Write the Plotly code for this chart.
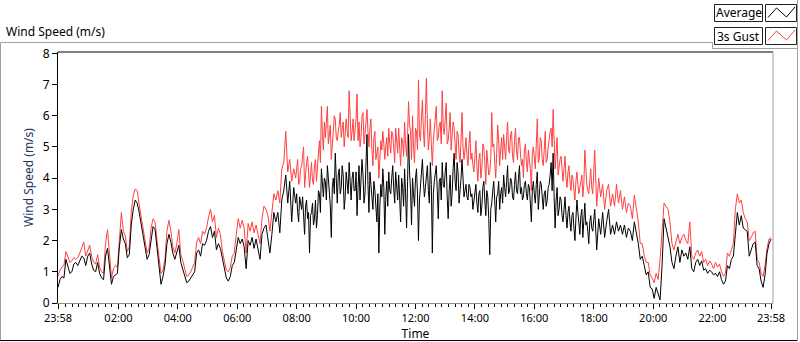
import plotly.graph_objects as go

# ---- data (m/s) ----
# 23:58 -> 07:54, 4-minute samples
avg_early = [
    0.5, 0.75, 0.85, 0.8, 1.4, 1.2, 0.95, 1.0, 1.25, 1.3, 1.2, 1.35, 1.5, 1.45, 1.2,
    1.5, 1.6, 1.25, 1.05, 1.0, 1.3, 0.95, 0.8, 0.75, 1.5, 1.75, 1.1, 0.6, 0.85, 0.9,
    0.95, 1.8, 2.35, 2.05, 1.9, 1.45, 1.55, 2.5, 3.0, 3.3, 3.2, 2.9, 2.5, 2.1, 1.8,
    1.4, 1.55, 2.1, 2.45, 2.35, 1.8, 1.2, 0.6, 0.85, 1.2, 1.9, 2.2, 1.95, 1.6, 1.4,
    1.6, 1.85, 1.3, 1.1, 0.9, 0.65, 0.7, 0.8, 0.9, 1.0, 1.6, 1.7, 1.5, 1.9, 1.85,
    2.0, 2.3, 2.45, 2.1, 2.3, 1.7, 1.9, 1.75, 1.4, 1.1, 0.8, 0.7, 0.85, 1.2, 1.3,
    1.7, 2.1, 1.9, 2.05, 1.8, 1.1, 2.0, 1.85, 2.1, 1.75, 2.05, 1.7, 1.4, 2.2, 2.4,
    2.5, 2.0, 1.6, 2.2, 2.9, 2.6, 2.9, 2.25, 3.3, 3.6, 4.1, 3.2, 3.9, 2.6, 3.7,
]
gust_early = [
    0.85, 1.05, 1.15, 1.2, 1.65, 1.5, 1.3, 1.35, 1.45, 1.4, 1.45, 1.6, 1.75, 1.95, 1.5,
    1.7, 1.85, 1.5, 1.3, 1.25, 1.55, 1.15, 1.0, 0.95, 1.9, 2.35, 1.4, 0.8, 1.1, 1.2,
    1.15, 2.2, 2.9, 2.3, 2.15, 1.65, 1.8, 2.9, 3.45, 3.65, 3.6, 3.15, 2.75, 2.3, 2.0,
    1.6, 1.75, 2.4, 2.7, 2.6, 2.0, 1.4, 0.95, 1.05, 1.4, 2.3, 2.65, 2.3, 1.8, 1.6,
    1.9, 2.35, 1.55, 1.35, 1.05, 0.85, 0.9, 1.0, 1.15, 1.3, 1.95, 2.1, 1.9, 2.3, 2.2,
    2.4, 2.75, 3.0, 2.6, 2.8, 2.1, 2.4, 2.2, 1.65, 1.35, 1.05, 1.0, 1.15, 1.5, 1.6,
    2.2, 2.7, 2.4, 2.65, 2.4, 1.6, 2.55, 2.3, 2.6, 2.25, 2.5, 2.2, 1.9, 2.7, 3.1,
    3.0, 2.8, 2.3, 2.9, 3.5, 3.3, 3.6, 3.2, 4.3, 4.5, 5.5, 4.2, 4.6, 3.9, 4.3,
]

# 07:58 -> 17:56, 2-minute samples
avg_mid = [
    3.2, 3.5, 2.9, 2.6, 3.4, 3.1, 3.0, 3.4, 2.6, 2.2, 3.1, 3.3, 2.7, 2.9, 1.6, 2.8, 2.9, 3.2, 2.5, 2.7, 3.3, 2.4, 2.8, 3.6, 3.5, 2.9, 4.3, 3.8, 3.4, 4.0,
    3.9, 3.3, 4.4, 4.0, 3.6, 3.1, 2.1, 3.7, 4.0, 3.5, 4.8, 3.9, 3.2, 4.1, 4.3, 3.5, 3.7, 4.4, 4.1, 3.0, 3.4, 4.2, 3.9, 3.5, 4.5, 3.8, 3.3, 4.0, 4.2, 3.6,
    3.6, 4.2, 2.8, 3.7, 4.4, 3.3, 3.8, 4.6, 4.1, 3.2, 3.5, 4.3, 5.4, 3.8, 2.9, 4.2, 3.9, 3.4, 3.0, 3.9, 3.6, 2.9, 2.6, 3.5, 1.6, 3.1, 3.8, 3.4, 4.3, 3.7,
    2.2, 3.4, 3.9, 3.1, 4.2, 3.6, 3.5, 4.0, 4.4, 3.7, 3.2, 4.2, 3.8, 3.3, 4.1, 3.5, 2.6, 4.0, 3.7, 3.1, 4.3, 3.5, 2.4, 3.9, 5.4, 4.2, 3.6, 2.5, 4.0, 3.5,
    3.1, 4.0, 4.3, 3.5, 2.0, 3.3, 3.8, 4.2, 4.6, 3.9, 3.4, 3.7, 4.2, 4.4, 3.6, 3.2, 4.5, 3.8, 1.6, 3.5, 3.9, 4.2, 4.4, 3.6, 2.7, 3.9, 4.0, 3.3, 4.5, 3.8,
    3.7, 4.2, 4.5, 3.4, 2.7, 3.6, 4.1, 3.1, 3.5, 4.3, 4.8, 3.9, 3.6, 4.5, 4.2, 3.2, 3.5, 4.0, 4.6, 3.7, 3.4, 3.6, 3.8, 3.4, 3.3, 3.8, 3.7, 3.4, 3.5, 3.0,
    3.3, 3.6, 3.8, 3.2, 2.9, 3.5, 3.6, 2.8, 3.1, 3.7, 3.9, 3.3, 2.8, 3.6, 3.4, 2.7, 1.55, 3.0, 3.2, 3.6, 3.9, 3.3, 2.6, 3.4, 3.5, 3.9, 3.0, 3.5, 3.7, 3.2,
    4.1, 3.7, 3.4, 3.9, 4.4, 3.5, 3.6, 4.0, 3.9, 3.4, 3.3, 3.8, 4.2, 3.6, 3.5, 4.0, 4.4, 3.5, 3.7, 3.3, 3.4, 3.8, 3.9, 3.5, 3.3, 3.8, 3.7, 3.2, 2.6, 3.6,
    3.9, 3.5, 3.2, 3.8, 4.2, 3.0, 3.4, 3.9, 3.8, 3.2, 3.0, 3.5, 3.6, 3.1, 3.3, 3.7, 3.8, 4.1, 4.5, 3.6, 4.8, 3.4, 2.4, 3.3, 3.7, 2.8, 3.0, 3.4, 3.3, 2.8,
    2.6, 3.0, 3.4, 2.8, 2.4, 2.9, 3.1, 2.6, 2.3, 2.8, 2.9, 2.4, 2.0, 2.7, 3.3, 2.9, 2.5, 2.2, 2.8, 3.0, 2.1, 2.7, 3.2, 2.5, 2.6, 2.3, 1.9, 2.6, 2.8, 2.4,
]
gust_mid = [
    4.0, 4.4, 4.6, 3.8, 3.9, 4.3, 4.4, 4.7, 5.0, 3.7, 4.2, 4.5, 4.7, 4.3, 3.7, 4.1, 4.5, 3.9, 3.8, 4.4, 4.6, 3.9, 4.3, 4.9, 5.2, 4.5, 6.3, 5.4, 4.9, 5.8,
    5.3, 5.8, 6.3, 5.1, 5.4, 5.7, 4.6, 5.3, 5.5, 6.0, 5.9, 5.3, 5.2, 5.5, 5.7, 6.1, 5.3, 5.6, 5.8, 5.0, 5.4, 5.9, 5.5, 5.3, 6.8, 5.6, 5.2, 5.5, 5.9, 5.2,
    5.5, 5.9, 6.7, 5.2, 5.8, 5.0, 5.3, 6.0, 6.1, 5.1, 5.4, 5.7, 6.2, 5.5, 5.0, 5.6, 5.9, 4.9, 4.4, 5.3, 5.5, 4.6, 4.8, 5.0, 4.0, 4.7, 5.2, 4.9, 5.5, 5.1,
    4.6, 5.0, 5.3, 4.7, 5.6, 5.1, 4.8, 5.5, 5.4, 5.0, 4.5, 5.6, 5.0, 4.8, 5.6, 5.1, 4.4, 5.3, 5.2, 4.7, 5.8, 5.1, 4.7, 5.4, 6.45, 5.7, 5.5, 4.6, 6.0, 5.0,
    4.5, 5.6, 5.5, 4.9, 7.15, 5.4, 5.2, 5.9, 6.5, 5.5, 5.0, 6.0, 7.2, 5.8, 4.9, 5.3, 5.9, 5.1, 4.4, 5.2, 5.6, 5.9, 6.3, 5.2, 5.3, 5.7, 5.8, 5.1, 6.8, 5.6,
    5.4, 5.9, 6.4, 5.1, 5.2, 5.6, 6.1, 4.9, 5.3, 5.8, 5.6, 5.0, 4.6, 5.5, 5.4, 4.8, 4.5, 5.2, 6.1, 5.0, 4.6, 4.9, 5.3, 4.7, 4.4, 5.1, 5.5, 4.6, 4.8, 4.4,
    4.2, 4.7, 5.2, 4.4, 3.9, 4.6, 4.8, 4.0, 4.3, 5.1, 5.0, 4.5, 3.8, 4.9, 4.6, 4.1, 4.2, 4.6, 6.1, 5.0, 5.1, 4.6, 4.0, 4.8, 5.7, 5.2, 4.4, 4.9, 5.3, 4.6,
    5.4, 5.0, 4.6, 5.3, 5.8, 4.9, 4.8, 5.4, 5.5, 4.7, 4.5, 5.2, 5.6, 4.9, 4.6, 5.3, 5.3, 4.8, 4.4, 4.6, 4.0, 4.9, 5.1, 4.5, 4.2, 4.9, 4.6, 4.3, 3.6, 4.8,
    5.0, 4.6, 4.3, 5.1, 5.9, 4.5, 4.6, 5.3, 5.2, 4.6, 4.4, 4.9, 5.5, 4.5, 4.6, 5.0, 5.3, 5.5, 5.6, 5.0, 6.2, 4.9, 4.3, 4.8, 5.3, 4.1, 4.4, 4.6, 4.7, 4.1,
    3.9, 4.3, 4.7, 4.0, 3.7, 4.2, 4.4, 3.9, 3.6, 4.1, 4.0, 3.6, 3.3, 3.9, 4.2, 3.8, 3.5, 3.7, 3.9, 4.1, 3.4, 3.8, 4.9, 4.2, 3.8, 3.6, 3.5, 3.9, 4.3, 3.7,
]

# 17:58 -> 23:58, 4-minute samples
avg_late = [
    2.3, 3.0, 1.7, 2.7, 2.2, 2.9, 2.1, 2.6, 3.0, 2.2, 2.5, 2.2, 2.6, 2.3, 2.5,
    2.2, 2.5, 2.1, 2.4, 2.3, 2.0, 2.6, 2.3, 1.9, 1.4, 1.5, 1.2, 0.9, 1.0, 0.5,
    0.45, 0.15, 0.5, 0.3, 0.1, 1.2, 2.7, 2.4, 2.1, 1.8, 1.3, 1.1, 1.5, 1.8, 1.3,
    1.7, 1.5, 1.6, 1.4, 1.8, 1.1, 1.0, 1.3, 1.4, 1.2, 1.35, 1.05, 1.1, 0.95, 1.05,
    1.0, 0.9, 0.95, 0.85, 1.0, 0.75, 0.6, 0.7, 1.2, 1.1, 1.4, 1.5, 2.2, 2.9, 2.5,
    2.8, 2.4, 2.35, 2.3, 1.5, 1.7, 1.9, 1.95, 1.2, 1.1, 0.7, 0.5, 0.9, 1.6, 1.9, 2.05,
]
gust_late = [
    3.5, 4.9, 3.1, 4.0, 3.4, 3.8, 3.0, 3.6, 3.8, 3.1, 3.5, 3.1, 3.8, 3.2, 3.6,
    3.0, 3.4, 2.9, 3.2, 3.1, 2.7, 3.45, 3.0, 2.6, 1.9, 1.9, 1.5, 1.3, 1.3, 0.9,
    0.8, 0.65, 0.95, 0.75, 1.4, 2.4, 3.2, 3.1, 3.0, 2.6, 1.9, 1.7, 2.0, 2.2, 1.9,
    2.1, 2.2, 2.0, 1.9, 2.6, 1.5, 1.4, 1.6, 1.7, 1.5, 1.65, 1.3, 1.4, 1.2, 1.35,
    1.25, 1.1, 1.3, 1.15, 1.25, 1.0, 0.85, 0.95, 1.6, 1.5, 1.7, 1.9, 3.0, 3.5, 3.2,
    3.3, 2.9, 2.7, 2.6, 2.0, 2.1, 2.25, 2.3, 1.4, 1.3, 0.95, 0.85, 1.2, 1.75, 2.05, 2.1,
]

# sample times, minutes after 23:58
minutes_early = [4 * i for i in range(len(avg_early))]
minutes_mid = [480 + 2 * i for i in range(len(avg_mid))]
minutes_late = [1080 + 4 * i for i in range(len(avg_late))]

times = minutes_early + minutes_mid + minutes_late
avg_speed = avg_early + avg_mid + avg_late
gust_speed = gust_early + gust_mid + gust_late

tick_minutes = [0, 122, 242, 362, 482, 602, 722, 842, 962, 1082, 1202, 1322, 1440]
tick_labels = ["23:58", "02:00", "04:00", "06:00", "08:00", "10:00", "12:00",
               "14:00", "16:00", "18:00", "20:00", "22:00", "23:58"]
minor_minutes = [2 + k * 40 / 3 for k in range(0, 108) if 2 + k * 40 / 3 <= 1440]

series_names = ["Average", "3s Gust"]
series_colors = ["#000000", "#ff4040"]

W, H = 800, 342
PL, PR, PT, PB = 58, 773, 52, 303  # plot area in pixels


def px(x):
    return (x - PL) / (PR - PL)


def py(y):
    return (PB - y) / (PB - PT)


fig = go.Figure()
fig.add_trace(go.Scatter(x=times, y=gust_speed, mode="lines",
                         line=dict(color=series_colors[1], width=1),
                         name=series_names[1], showlegend=False))
fig.add_trace(go.Scatter(x=times, y=avg_speed, mode="lines",
                         line=dict(color=series_colors[0], width=1),
                         name=series_names[0], showlegend=False))

FONT = "Noto Sans, Open Sans, sans-serif"

fig.update_layout(
    width=W, height=H,
    margin=dict(l=PL, r=W - PR, t=PT, b=H - PB, autoexpand=False),
    paper_bgcolor="white", plot_bgcolor="white",
    font=dict(family=FONT, size=11, color="#000000"),
    xaxis=dict(
        automargin=False,
        range=[0, 1440 * (PR - PL) / (771 - PL)],
        tickmode="array", tickvals=tick_minutes, ticktext=tick_labels,
        ticks="outside", ticklen=5, tickcolor="#000000", tickwidth=1,
        showline=True, linecolor="#8c8c8c", linewidth=1,
        showgrid=False, zeroline=False,
        minor=dict(tickmode="array", tickvals=minor_minutes, ticks="outside",
                   ticklen=3, tickcolor="#000000", tickwidth=1, showgrid=False),
        title=dict(text="Time", font=dict(size=12, color="#000000"), standoff=2),
        tickfont=dict(size=11),
    ),
    yaxis=dict(
        automargin=False,
        range=[0, 8 * (PB - PT) / (PB - 53.3)],
        tickmode="array", tickvals=[0, 1, 2, 3, 4, 5, 6, 7, 8],
        ticks="outside", ticklen=5, tickcolor="#000000",
        showline=True, linecolor="#000000", linewidth=1,
        showgrid=False, zeroline=False,
        title=dict(text="Wind Speed (m/s)", font=dict(size=12, color="#1e3466"), standoff=6),
        tickfont=dict(size=12),
    ),
)

shapes = []
gray = "#a0a0a0"
# plot frame: top black, right gray
shapes.append(dict(type="line", xref="paper", yref="paper", x0=0, x1=1, y0=1, y1=1,
                   line=dict(color="#000000", width=1)))
shapes.append(dict(type="line", xref="paper", yref="paper", x0=1, x1=1, y0=0, y1=1,
                   line=dict(color=gray, width=1)))
# outer frame
shapes.append(dict(type="line", xref="paper", yref="paper", x0=px(0.5), x1=px(712.5),
                   y0=py(42.5), y1=py(42.5), line=dict(color=gray, width=1)))
shapes.append(dict(type="line", xref="paper", yref="paper", x0=px(0.5), x1=px(0.5),
                   y0=py(42.5), y1=py(341), line=dict(color=gray, width=1)))
shapes.append(dict(type="line", xref="paper", yref="paper", x0=px(0), x1=px(798),
                   y0=py(340.5), y1=py(340.5), line=dict(color="#000000", width=1)))
shapes.append(dict(type="line", xref="paper", yref="paper", x0=px(797.5), x1=px(797.5),
                   y0=py(0), y1=py(341), line=dict(color=gray, width=1)))
shapes.append(dict(type="line", xref="paper", yref="paper", x0=px(712.5), x1=px(712.5),
                   y0=py(42.5), y1=py(48.5), line=dict(color=gray, width=1)))
shapes.append(dict(type="line", xref="paper", yref="paper", x0=px(712.5), x1=px(798),
                   y0=py(48.5), y1=py(48.5), line=dict(color=gray, width=1)))

# legend boxes
for i, (name, col) in enumerate(zip(series_names, series_colors)):
    top = 4.5 + i * 23
    bot = top + 17
    shapes.append(dict(type="rect", xref="paper", yref="paper",
                       x0=px(714.5), x1=px(762.5), y0=py(bot), y1=py(top),
                       line=dict(color="#202020", width=1), fillcolor="white"))
    shapes.append(dict(type="rect", xref="paper", yref="paper",
                       x0=px(765.5), x1=px(796.5), y0=py(bot), y1=py(top),
                       line=dict(color="#202020", width=1), fillcolor="white"))
    pts = [(768, top + 13), (776.5, top + 3.5), (786.5, top + 12.5), (795, top + 2.5)]
    path = "M " + " L ".join(f"{px(a)},{py(b)}" for a, b in pts)
    shapes.append(dict(type="path", xref="paper", yref="paper", path=path,
                       line=dict(color=col, width=1)))
    fig.add_annotation(xref="paper", yref="paper", x=px(738.5), y=py((top + bot) / 2),
                       text=name, showarrow=False, xanchor="center", yanchor="middle",
                       font=dict(size=12, color="#000000"))

fig.update_layout(shapes=shapes)

# chart caption
fig.add_annotation(xref="paper", yref="paper", x=px(4), y=py(31), text="Wind Speed (m/s)",
                   showarrow=False, xanchor="left", yanchor="middle",
                   font=dict(size=12, color="#000000"))

fig.write_html("out.html", config={"displayModeBar": False},
               post_script="document.body.style.margin='0px';document.body.style.overflow='hidden';")
